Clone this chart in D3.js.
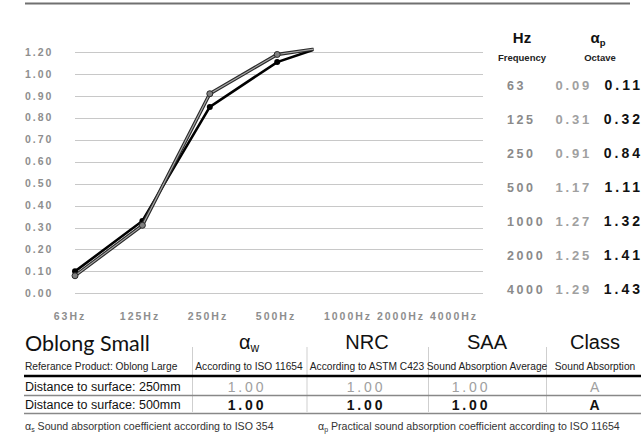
<!DOCTYPE html>
<html>
<head>
<meta charset="utf-8">
<script src="https://cdn.jsdelivr.net/npm/d3@7"></script>
<style>
  body { margin: 0; background: #fff; }
  svg { display: block; font-family: Arial, "Liberation Sans", sans-serif; }
</style>
</head>
<body>
<svg id="chart" width="644" height="435"></svg>
<script>
// frequencies and the two practical alpha series (table on the right)
const freqs = ["63", "125", "250", "500", "1000", "2000", "4000"];
const freqLabels = freqs.map(f => f + "Hz");
const alpha250 = [0.09, 0.31, 0.91, 1.17, 1.27, 1.25, 1.29];
const alpha500 = [0.11, 0.32, 0.84, 1.11, 1.32, 1.41, 1.43];

// plotted curves (the graph is cut after 500Hz)
const curveFreqs = ["63", "125", "250", "500", "1000"];
const curve250 = [0.08, 0.31, 0.91, 1.18, 1.27];
const curve500 = [0.10, 0.33, 0.85, 1.11, 1.32];

const yTicks = [0, 0.1, 0.2, 0.3, 0.4, 0.5, 0.6, 0.7, 0.8, 0.9, 1.0, 1.2];

// bottom summary table
const product = "Oblong Small";
const reference = "Referance Product: Oblong Large";
const colHeads = ["α", "NRC", "SAA", "Class"];
const colNotes = ["According to ISO 11654", "According to ASTM C423", "Sound Absorption Average", "Sound Absorption"];
const rowLabels = ["Distance to surface: 250mm", "Distance to surface: 500mm"];
const rowValues = [["1.00", "1.00", "1.00", "A"], ["1.00", "1.00", "1.00", "A"]];

const svg = d3.select("#chart");

// top rule
svg.append("line")
  .attr("x1", 25).attr("x2", 630).attr("y1", 3.5).attr("y2", 3.5)
  .attr("stroke", "#707070").attr("stroke-width", 2);

// scales
const x = d3.scalePoint().domain(freqs).range([75, 75 + 6 * 67.4]);
const y = d3.scaleLinear().domain([0, 1, 1.2]).range([293.3, 74, 52.3]);
const xLab = d3.scaleOrdinal().domain(freqs).range([70, 140, 208, 276, 348, 401, 454]);

// grid + y labels
const grid = svg.append("g");
grid.selectAll("line").data(yTicks).join("line")
  .attr("x1", 75).attr("x2", 483)
  .attr("y1", d => Math.round(y(d)) + 0.5).attr("y2", d => Math.round(y(d)) + 0.5)
  .attr("stroke", "#c8c8c8").attr("stroke-width", 1);
grid.selectAll("text").data(yTicks).join("text")
  .attr("x", 25).attr("y", d => y(d) + 3.6)
  .attr("font-size", 10.5).attr("font-weight", "bold").attr("letter-spacing", 2)
  .attr("fill", "#8e8e8e")
  .text(d => d.toFixed(2));

// x labels
svg.append("g").selectAll("text").data(freqs).join("text")
  .attr("x", d => xLab(d)).attr("y", 319.5)
  .attr("text-anchor", "middle")
  .attr("font-size", 10.5).attr("font-weight", "bold").attr("letter-spacing", 2)
  .attr("fill", "#8e8e8e")
  .text((d, i) => freqLabels[i]);

// curves, clipped where the original graph stops
svg.append("clipPath").attr("id", "plotclip")
  .append("rect").attr("x", 60).attr("y", 0).attr("width", 253.5).attr("height", 300);

const plot = svg.append("g").attr("clip-path", "url(#plotclip)");
const line = d3.line().x(d => x(d[0])).y(d => y(d[1]));
const pts500 = curveFreqs.map((f, i) => [f, curve500[i]]);
const pts250 = curveFreqs.map((f, i) => [f, curve250[i]]);

plot.append("path").attr("d", line(pts500))
  .attr("fill", "none").attr("stroke", "#000").attr("stroke-width", 2.6);
plot.selectAll(".p500").data(pts500.slice(0, 4)).join("circle")
  .attr("cx", d => x(d[0])).attr("cy", d => y(d[1])).attr("r", 3)
  .attr("fill", "#000");

plot.append("path").attr("d", line(pts250))
  .attr("fill", "none").attr("stroke", "#2a2a2a").attr("stroke-width", 3.4);
plot.append("path").attr("d", line(pts250))
  .attr("fill", "none").attr("stroke", "#a8a8a8").attr("stroke-width", 1.1);
plot.selectAll(".p250").data(pts250.slice(0, 4)).join("circle")
  .attr("cx", d => x(d[0])).attr("cy", d => y(d[1])).attr("r", 3)
  .attr("fill", "#808080").attr("stroke", "#2a2a2a").attr("stroke-width", 1);

// right table
const yRow = d3.scalePoint().domain(freqs).range([89.5, 293.5]);
const rt = svg.append("g");
rt.append("text").attr("x", 522).attr("y", 43).attr("text-anchor", "middle")
  .attr("font-size", 15).attr("font-weight", "bold").attr("fill", "#111").text("Hz");
rt.append("text").attr("x", 522).attr("y", 61).attr("text-anchor", "middle")
  .attr("font-size", 9.5).attr("font-weight", "bold").attr("fill", "#222").text("Frequency");
const ap = rt.append("text").attr("x", 598).attr("y", 43).attr("text-anchor", "middle")
  .attr("font-size", 15).attr("font-weight", "bold").attr("fill", "#111");
ap.append("tspan").text("α");
ap.append("tspan").attr("font-size", 9.5).attr("dy", 3).text("p");
rt.append("text").attr("x", 600).attr("y", 61).attr("text-anchor", "middle")
  .attr("font-size", 9.5).attr("font-weight", "bold").attr("fill", "#222").text("Octave");

rt.selectAll(".f").data(freqs).join("text")
  .attr("x", 507).attr("y", d => yRow(d))
  .attr("font-size", 12.5).attr("font-weight", "bold").attr("letter-spacing", 2.6)
  .attr("fill", "#8a8a8a").text(d => d);
rt.selectAll(".a1").data(freqs).join("text")
  .attr("x", 592).attr("y", d => yRow(d)).attr("text-anchor", "end")
  .attr("font-size", 13).attr("font-weight", "bold").attr("letter-spacing", 2.8)
  .attr("fill", "#a0a0a0").text((d, i) => alpha250[i].toFixed(2));
rt.selectAll(".a2").data(freqs).join("text")
  .attr("x", 643).attr("y", d => yRow(d)).attr("text-anchor", "end")
  .attr("font-size", 14).attr("font-weight", "bold").attr("letter-spacing", 3)
  .attr("fill", "#111").text((d, i) => alpha500[i].toFixed(2));

// bottom table
const bt = svg.append("g");
bt.append("text").attr("x", 25).attr("y", 351)
  .attr("font-family", "Lato, 'Noto Sans', sans-serif").attr("font-size", 21.5)
  .attr("fill", "#111").text(product);
bt.append("text").attr("x", 25).attr("y", 369.5)
  .attr("font-size", 10.2).attr("fill", "#222").text(reference);

const seps = [192, 306.5, 428, 546];
const colMid = [249, 367, 487, 595];
const valMid = [247, 366, 471, 596];

bt.selectAll(".sep").data(seps).join("line")
  .attr("x1", d => d + 0.5).attr("x2", d => d + 0.5).attr("y1", 347).attr("y2", 412)
  .attr("stroke", "#cfcfcf").attr("stroke-width", 1);

bt.selectAll(".head").data(colHeads).join("text")
  .attr("x", (d, i) => colMid[i]).attr("y", 349).attr("text-anchor", "middle")
  .attr("font-size", 20).attr("fill", "#111")
  .each(function(d, i) {
    const t = d3.select(this);
    t.append("tspan").text(d);
    if (i === 0) t.append("tspan").attr("font-size", 12).attr("dy", 3).text("w");
  });
bt.selectAll(".note").data(colNotes).join("text")
  .attr("x", (d, i) => colMid[i]).attr("y", 369.5).attr("text-anchor", "middle")
  .attr("font-size", 10.2).attr("fill", "#222").text(d => d);

bt.append("line").attr("x1", 24).attr("x2", 641).attr("y1", 376).attr("y2", 376)
  .attr("stroke", "#000").attr("stroke-width", 2.4);

const rowY = [386, 404];
rowLabels.forEach((lab, r) => {
  bt.append("text").attr("x", 25).attr("y", rowY[r] + 4.5)
    .attr("font-size", 12.5).attr("fill", "#111").text(lab);
  bt.selectAll(".v" + r).data(rowValues[r]).join("text")
    .attr("x", (d, i) => valMid[i]).attr("y", rowY[r] + 5.5).attr("text-anchor", "middle")
    .attr("font-size", 14).attr("font-weight", r === 1 ? "bold" : "normal")
    .attr("letter-spacing", 2.8)
    .attr("fill", r === 1 ? "#111" : "#a0a0a0").text(d => d);
  bt.append("line").attr("x1", 24).attr("x2", 641)
    .attr("y1", rowY[r] + 9.5).attr("y2", rowY[r] + 9.5)
    .attr("stroke", "#888").attr("stroke-width", 1.5);
});

// footnotes
const fn1 = bt.append("text").attr("x", 25).attr("y", 430).attr("font-size", 10.6).attr("fill", "#333");
fn1.append("tspan").text("α");
fn1.append("tspan").attr("font-size", 7).attr("dy", 1.5).text("s");
fn1.append("tspan").attr("dy", -1.5).text(" Sound absorption coefficient according to ISO 354");
const fn2 = bt.append("text").attr("x", 318).attr("y", 430).attr("font-size", 10.6).attr("fill", "#333");
fn2.append("tspan").text("α");
fn2.append("tspan").attr("font-size", 7).attr("dy", 1.5).text("p");
fn2.append("tspan").attr("dy", -1.5).text(" Practical sound absorption coefficient according to ISO 11654");
</script>
</body>
</html>
